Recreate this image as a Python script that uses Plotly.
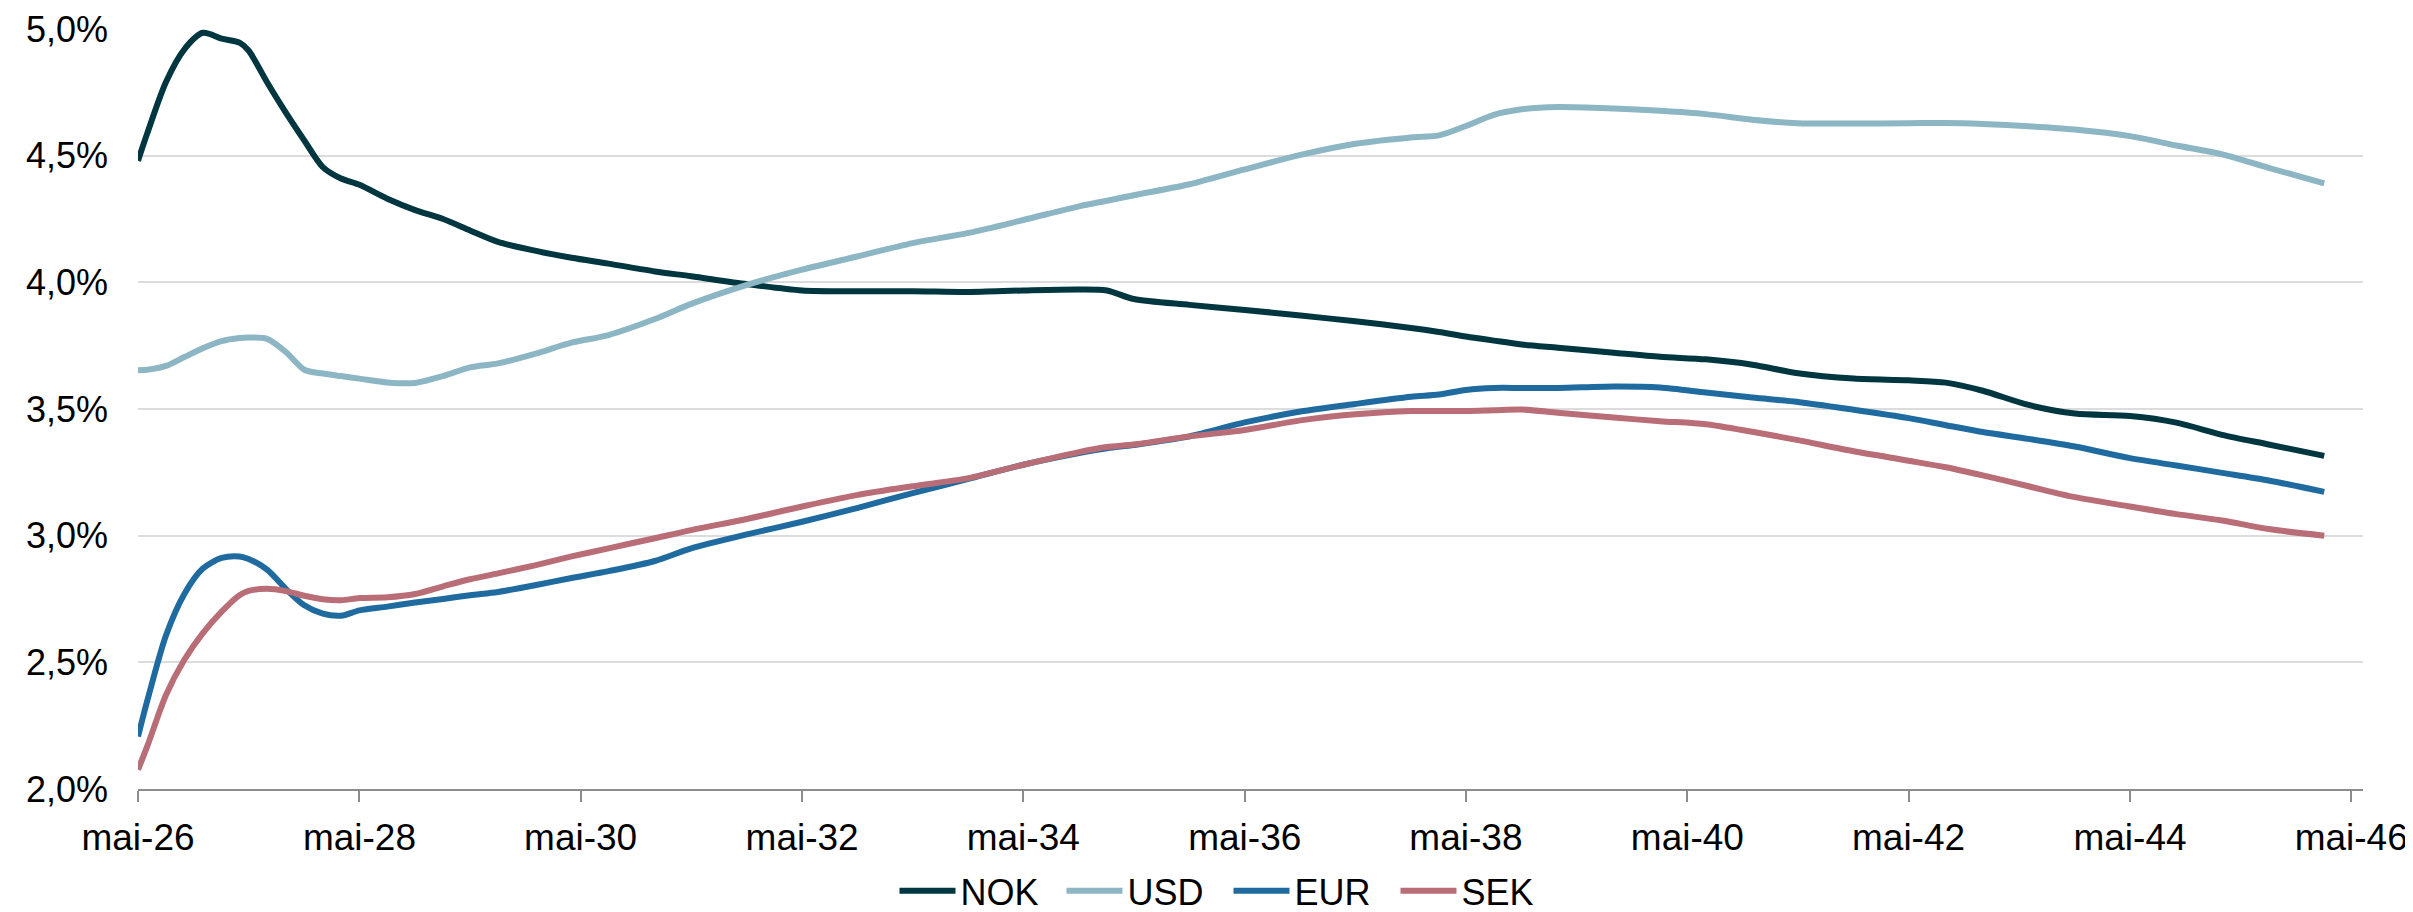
import plotly.graph_objects as go

dates = [
    "2026-05-01", "2026-06-01", "2026-08-01", "2026-10-01", "2026-12-01", "2027-02-01",
    "2027-04-01", "2027-05-01", "2027-07-01", "2027-09-01", "2027-11-01", "2028-01-01",
    "2028-03-01", "2028-05-01", "2028-08-01", "2028-11-01", "2029-02-01", "2029-05-01",
    "2029-08-01", "2029-12-01", "2030-04-01", "2030-08-01", "2031-01-01", "2031-05-01",
    "2031-11-01", "2032-05-01", "2032-11-01", "2033-05-01", "2033-11-01", "2034-05-01",
    "2034-11-01", "2035-02-01", "2035-05-01", "2035-11-01", "2036-05-01", "2036-11-01",
    "2037-05-01", "2037-11-01", "2038-02-01", "2038-05-01", "2038-08-01", "2038-11-01",
    "2039-03-01", "2039-09-01", "2040-02-01", "2040-07-01", "2040-12-01", "2041-05-01",
    "2041-11-01", "2042-05-01", "2042-09-01", "2043-01-01", "2043-06-01", "2043-11-01",
    "2044-05-01", "2044-10-01", "2045-03-01", "2045-08-01", "2046-02-01",
]

nok = [
    4.48, 4.59, 4.79, 4.92, 4.985, 4.962, 4.946, 4.915, 4.79, 4.67, 4.56, 4.455,
    4.41, 4.385, 4.33, 4.285, 4.25, 4.205, 4.16, 4.125, 4.097, 4.074, 4.043, 4.024,
    3.993, 3.968, 3.965, 3.965, 3.962, 3.968, 3.972, 3.968, 3.934, 3.911, 3.891, 3.869,
    3.846, 3.82, 3.804, 3.786, 3.77, 3.755, 3.742, 3.722, 3.706, 3.696, 3.675, 3.641,
    3.62, 3.613, 3.604, 3.572, 3.516, 3.482, 3.472, 3.446, 3.398, 3.36, 3.315,
]

usd = [
    3.653, 3.655, 3.67, 3.705, 3.74, 3.768, 3.78, 3.782, 3.777, 3.725, 3.655, 3.64,
    3.63, 3.62, 3.605, 3.603, 3.63, 3.664, 3.68, 3.718, 3.762, 3.792, 3.855, 3.915,
    3.99, 4.05, 4.103, 4.155, 4.195, 4.246, 4.3, 4.322, 4.344, 4.387, 4.446, 4.503,
    4.547, 4.572, 4.58, 4.617, 4.661, 4.683, 4.692, 4.686, 4.677, 4.664, 4.642, 4.628,
    4.627, 4.628, 4.629, 4.625, 4.616, 4.603, 4.577, 4.54, 4.505, 4.452, 4.391,
]

eur = [
    2.207, 2.35, 2.605, 2.77, 2.87, 2.912, 2.918, 2.908, 2.866, 2.79, 2.725, 2.692,
    2.684, 2.705, 2.72, 2.736, 2.75, 2.765, 2.778, 2.804, 2.833, 2.86, 2.9, 2.95,
    3.005, 3.055, 3.11, 3.168, 3.224, 3.28, 3.326, 3.345, 3.358, 3.392, 3.447, 3.49,
    3.52, 3.548, 3.557, 3.575, 3.583, 3.583, 3.583, 3.589, 3.585, 3.565, 3.545, 3.528,
    3.497, 3.464, 3.436, 3.409, 3.382, 3.352, 3.306, 3.277, 3.248, 3.218, 3.173,
]

sek = [
    2.076, 2.17, 2.37, 2.51, 2.615, 2.70, 2.765, 2.782, 2.79, 2.781, 2.763, 2.749,
    2.745, 2.754, 2.757, 2.77, 2.80, 2.828, 2.851, 2.883, 2.918, 2.95, 2.99, 3.022,
    3.066, 3.115, 3.161, 3.195, 3.227, 3.28, 3.33, 3.35, 3.36, 3.392, 3.417, 3.455,
    3.479, 3.492, 3.492, 3.492, 3.495, 3.498, 3.485, 3.466, 3.452, 3.44, 3.41, 3.377,
    3.333, 3.296, 3.27, 3.238, 3.195, 3.152, 3.115, 3.085, 3.06, 3.026, 3.0,
]

series_names = ["NOK", "USD", "EUR", "SEK"]
series_values = [nok, usd, eur, sek]
series_colors = ["#00363F", "#8DB6C5", "#1F6B9F", "#B86D77"]

tick_dates = [f"{y}-05-01" for y in range(2026, 2047, 2)]
tick_labels = ["mai-26", "mai-28", "mai-30", "mai-32", "mai-34", "mai-36",
               "mai-38", "mai-40", "mai-42", "mai-44", "mai-46"]

FONT = "Arial, 'Liberation Sans', sans-serif"

fig = go.Figure()
for name, vals, col in zip(series_names, series_values, series_colors):
    fig.add_trace(go.Scatter(
        x=dates, y=vals, name=name, mode="lines",
        line=dict(color=col, width=6, shape="spline", smoothing=0.8),
    ))

# page body has an 8px default margin, so the figure is 8px smaller
fig.update_layout(
    width=2405, height=904, autosize=False,
    margin=dict(l=130, r=50, t=21, b=123, pad=0, autoexpand=False),
    paper_bgcolor="white", plot_bgcolor="white",
    separators=", ",
    font=dict(family=FONT, size=36, color="#000000"),
    showlegend=True,
    legend=dict(
        orientation="h", xref="container", yref="container",
        xanchor="left", x=0.3686, yanchor="middle", y=0.0235,
        font=dict(family=FONT, size=36, color="#000000"),
        itemwidth=56, entrywidth=96, entrywidthmode="pixels",
        bgcolor="rgba(0,0,0,0)", traceorder="normal",
    ),
)

fig.update_xaxes(
    type="date", automargin=False,
    range=["2026-05-01", "2046-06-09"],
    tickmode="array", tickvals=tick_dates, ticktext=tick_labels,
    showgrid=False, zeroline=False,
    showline=True, linecolor="#8C8C8C", linewidth=2,
    ticks="outside", ticklen=11, tickwidth=1.5, tickcolor="#8C8C8C",
    ticklabelstandoff=4,
    tickfont=dict(family=FONT, size=37, color="#000000"),
)

fig.update_yaxes(
    automargin=False,
    range=[2.0, 5.0], dtick=0.5, tick0=2.0,
    tickformat=".1f", ticksuffix="%",
    showgrid=True, gridcolor="#DCDCDC", gridwidth=1.5,
    zeroline=False, showline=False, ticks="",
    ticklabelstandoff=29,
    tickfont=dict(family=FONT, size=36, color="#000000"),
)

fig.write_html("out.html")
